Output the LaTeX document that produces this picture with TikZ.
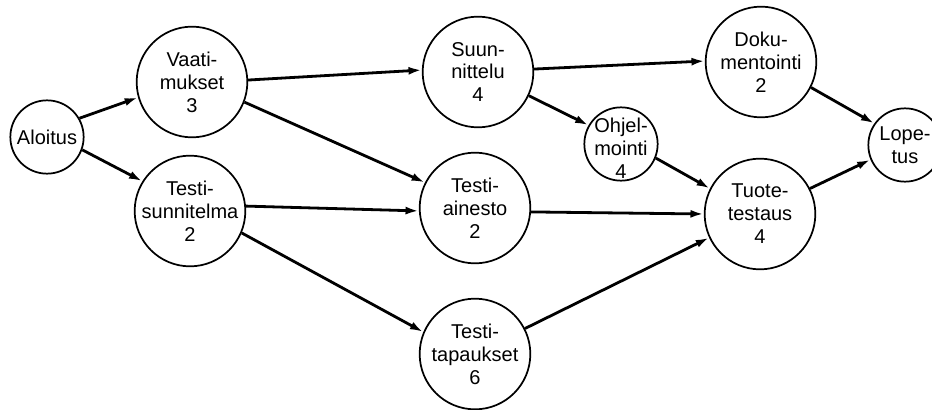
\documentclass[tikz,border=0pt]{standalone}
\usepackage{fontspec}
\setmainfont{Liberation Sans}
\usetikzlibrary{arrows.meta}
\begin{document}
\begin{tikzpicture}[x=0.75pt,y=-0.75pt,
  ring/.style={circle,draw,line width=1.3pt,inner sep=0pt},
  big/.style={ring,minimum size=83pt},
  small/.style={ring,minimum size=55pt},
  txt/.style={inner sep=0pt,align=center,font=\fontsize{15}{17.2}\selectfont},
  flow/.style={line width=2.1pt,-{Latex[length=10pt,width=6pt]}}]
\clip (0,0) rectangle (932,410);
% activities (circles) and their labels
\node[small] (alo) at (47,137) {};
\node[txt] (alo-t) at (alo) {Aloitus};
\node[big] (vaa) at (192,82) {};
\node[txt] (vaa-t) at (vaa) {Vaati-\\mukset\\3};
\node[big] (tsu) at (190,211) {};
\node[txt] (tsu-t) at (tsu) {Testi-\\sunnitelma\\2};
\node[big] (sun) at (478,72) {};
\node[txt] (sun-t) at (sun) {Suun-\\nittelu\\4};
\node[big] (tai) at (475,208) {};
\node[txt] (tai-t) at (tai) {Testi-\\ainesto\\2};
\node[big] (tta) at (475,354) {};
\node[txt] (tta-t) at (tta) {Testi-\\tapaukset\\6};
\node[small] (ohj) at (621,144) {};
\node[txt] (ohj-t) at ([yshift=-3pt]ohj.center) {Ohjel-\\mointi\\4};
\node[big] (dok) at (761,62) {};
\node[txt] (dok-t) at (dok) {Doku-\\mentointi\\2};
\node[big] (tuo) at (760,214) {};
\node[txt] (tuo-t) at (tuo) {Tuote-\\testaus\\4};
\node[small] (lop) at (905,145) {};
\node[txt] (lop-t) at (lop) {Lope-\\tus};
% precedence arrows
\draw[flow] (alo.30) -- (vaa.196);
\draw[flow] (alo.-20) -- (tsu.148);
\draw[flow] (vaa.2) -- (sun.178);
\draw[flow] (vaa.-21) -- (tai.153);
\draw[flow] (tsu.5) -- (tai.183);
\draw[flow] (tsu.-23) -- (tta.157);
\draw[flow] (sun.3) -- (dok.179);
\draw[flow] (sun.-25) -- (ohj.150);
\draw[flow] (ohj.-22) -- (tuo.153);
\draw[flow] (tai.-4) -- (tuo.180);
\draw[flow] (tta.27) -- (tuo.205);
\draw[flow] (dok.-27) -- (lop.145);
\draw[flow] (tuo.27) -- (lop.203);
\end{tikzpicture}
\end{document}
